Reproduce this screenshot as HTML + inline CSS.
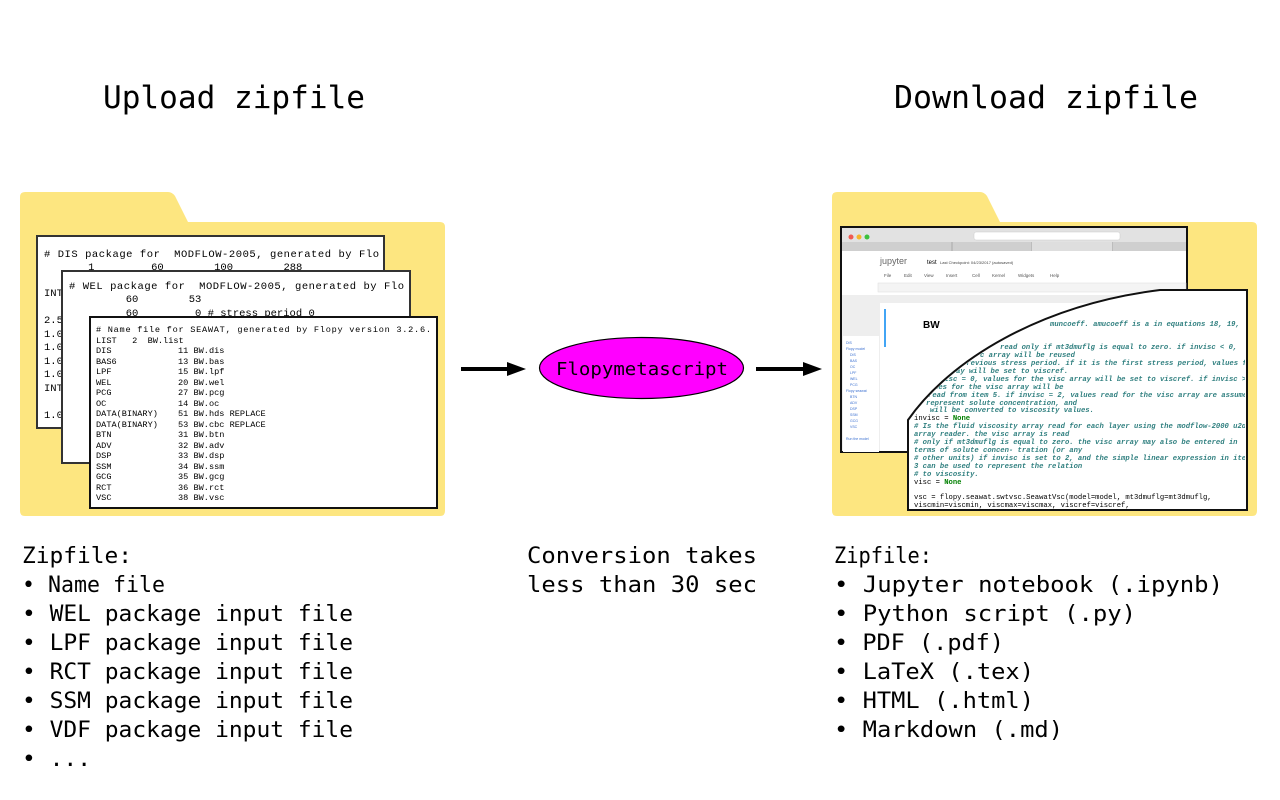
<!DOCTYPE html>
<html><head><meta charset="utf-8"><style>
html,body{margin:0;padding:0;background:#fff;width:1280px;height:800px;overflow:hidden}
svg{display:block}
.m{font-family:"DejaVu Sans Mono","Liberation Mono",monospace}
</style></head><body>
<svg width="1280" height="800" viewBox="0 0 1280 800" xmlns="http://www.w3.org/2000/svg">
<defs>
<clipPath id="pc"><path d="M909 509 L909 421 C951 361 1041 306 1160 291 L1245 291 L1245 509 Z"/></clipPath>
</defs>
<g class="m" fill="#000">
<text x="103" y="108" font-size="31" textLength="262" lengthAdjust="spacingAndGlyphs">Upload zipfile</text>
<text x="894" y="108" font-size="31" textLength="304" lengthAdjust="spacingAndGlyphs">Download zipfile</text>
</g>
<path d="M25 192 H168 Q172 192 175 196 L188 222 H440 Q445 222 445 227 V511 Q445 516 440 516 H25 Q20 516 20 511 V197 Q20 192 25 192 Z" fill="#FDE680"/>
<path d="M837 192 H980 Q984 192 987 196 L1000 222 H1252 Q1257 222 1257 227 V511 Q1257 516 1252 516 H837 Q832 516 832 511 V197 Q832 192 837 192 Z" fill="#FDE680"/>
<rect x="37" y="236" width="347" height="192" fill="#fff" stroke="#333" stroke-width="2"/>
<g font-family="Liberation Mono,monospace" font-size="10.5" fill="#000">
<text x="44" y="257" textLength="335" lengthAdjust="spacing">#&#160;DIS&#160;package&#160;for&#160;&#160;MODFLOW-2005,&#160;generated&#160;by&#160;Flo</text>
<text x="44" y="270">&#160;&#160;&#160;&#160;&#160;&#160;&#160;1&#160;&#160;&#160;&#160;&#160;&#160;&#160;&#160;&#160;60&#160;&#160;&#160;&#160;&#160;&#160;&#160;&#160;100&#160;&#160;&#160;&#160;&#160;&#160;&#160;&#160;288</text>
<text x="44" y="296">INT</text><text x="44" y="323">2.5</text><text x="44" y="337">1.0</text><text x="44" y="350">1.0</text><text x="44" y="364">1.0</text><text x="44" y="377">1.0</text><text x="44" y="391">INT</text><text x="44" y="418">1.0</text>
</g>
<rect x="62" y="271" width="348" height="192" fill="#fff" stroke="#333" stroke-width="2"/>
<g font-family="Liberation Mono,monospace" font-size="10.5" fill="#000">
<text x="69" y="289" textLength="335" lengthAdjust="spacing">#&#160;WEL&#160;package&#160;for&#160;&#160;MODFLOW-2005,&#160;generated&#160;by&#160;Flo</text>
<text x="69" y="302">&#160;&#160;&#160;&#160;&#160;&#160;&#160;&#160;&#160;60&#160;&#160;&#160;&#160;&#160;&#160;&#160;&#160;53</text>
<text x="69" y="316">&#160;&#160;&#160;&#160;&#160;&#160;&#160;&#160;&#160;60&#160;&#160;&#160;&#160;&#160;&#160;&#160;&#160;&#160;0&#160;#&#160;stress&#160;period&#160;0</text>
</g>
<rect x="90" y="317" width="347" height="191" fill="#fff" stroke="#111" stroke-width="2"/>
<g font-family="Liberation Mono,monospace" font-size="8.6" fill="#000">
<text x="96" y="332" textLength="335" lengthAdjust="spacing">#&#160;Name&#160;file&#160;for&#160;SEAWAT,&#160;generated&#160;by&#160;Flopy&#160;version&#160;3.2.6.</text>
<text x="96" y="343">LIST&#160;&#160;&#160;2&#160;&#160;BW.list</text>
<text x="96" y="353">DIS</text><text x="178" y="353">11&#160;BW.dis</text>
<text x="96" y="364">BAS6</text><text x="178" y="364">13&#160;BW.bas</text>
<text x="96" y="374">LPF</text><text x="178" y="374">15&#160;BW.lpf</text>
<text x="96" y="385">WEL</text><text x="178" y="385">20&#160;BW.wel</text>
<text x="96" y="395">PCG</text><text x="178" y="395">27&#160;BW.pcg</text>
<text x="96" y="406">OC</text><text x="178" y="406">14&#160;BW.oc</text>
<text x="96" y="416">DATA(BINARY)</text><text x="178" y="416">51&#160;BW.hds&#160;REPLACE</text>
<text x="96" y="427">DATA(BINARY)</text><text x="178" y="427">53&#160;BW.cbc&#160;REPLACE</text>
<text x="96" y="437">BTN</text><text x="178" y="437">31&#160;BW.btn</text>
<text x="96" y="448">ADV</text><text x="178" y="448">32&#160;BW.adv</text>
<text x="96" y="458">DSP</text><text x="178" y="458">33&#160;BW.dsp</text>
<text x="96" y="469">SSM</text><text x="178" y="469">34&#160;BW.ssm</text>
<text x="96" y="479">GCG</text><text x="178" y="479">35&#160;BW.gcg</text>
<text x="96" y="490">RCT</text><text x="178" y="490">36&#160;BW.rct</text>
<text x="96" y="500">VSC</text><text x="178" y="500">38&#160;BW.vsc</text>
</g>
<rect x="841" y="227" width="346" height="225" fill="#fff" stroke="#111" stroke-width="2"/>
<rect x="842" y="228" width="344" height="14" fill="#e2e2e2"/>
<circle cx="851" cy="237" r="2.5" fill="#f05a50"/><circle cx="859" cy="237" r="2.5" fill="#f5b52a"/><circle cx="867" cy="237" r="2.5" fill="#3dc13d"/>
<rect x="974" y="232" width="146" height="8" rx="2" fill="#fff" stroke="#ccc" stroke-width="0.5"/>
<rect x="842" y="242" width="344" height="9" fill="#cfcfcf"/>
<line x1="952" y1="242" x2="952" y2="251" stroke="#aaa"/><line x1="1032" y1="242" x2="1032" y2="251" stroke="#aaa"/><line x1="1112" y1="242" x2="1112" y2="251" stroke="#aaa"/>
<rect x="1032" y="242" width="80" height="9" fill="#dedede"/>
<text x="880" y="264" font-family="Liberation Sans,sans-serif" font-size="9" fill="#666">jupyter</text>
<text x="927" y="264" font-family="Liberation Sans,sans-serif" font-size="6" fill="#000">test</text>
<text x="940" y="264" font-family="Liberation Sans,sans-serif" font-size="4" fill="#444">Last Checkpoint: 04/23/2017 (autosaved)</text>
<g font-family="Liberation Sans,sans-serif" font-size="4.5" fill="#555">
<text x="884" y="277">File</text><text x="904" y="277">Edit</text><text x="924" y="277">View</text><text x="946" y="277">Insert</text><text x="972" y="277">Cell</text><text x="992" y="277">Kernel</text><text x="1018" y="277">Widgets</text><text x="1050" y="277">Help</text>
</g>
<rect x="878" y="283" width="308" height="9" fill="#f4f4f4" stroke="#ddd" stroke-width="0.5"/>
<rect x="842" y="295" width="344" height="156" fill="#eeeeee"/>
<rect x="880" y="303" width="306" height="148" fill="#fff"/>
<rect x="884" y="309" width="2" height="38" fill="#42a5f5"/>
<text x="923" y="328" font-family="Liberation Sans,sans-serif" font-size="10" font-weight="bold" fill="#000">BW</text>
<rect x="843" y="336" width="36" height="116" fill="#fff"/>
<g font-family="Liberation Sans,sans-serif" font-size="3.5" fill="#3a6fd0">
<text x="846" y="344">DIS</text><text x="846" y="350">Flopy model</text><text x="850" y="356">DIS</text><text x="850" y="362">BAS</text><text x="850" y="368">OC</text><text x="850" y="374">LPF</text><text x="850" y="380">WEL</text><text x="850" y="386">PCG</text><text x="846" y="392">Flopy seawat</text><text x="850" y="398">BTN</text><text x="850" y="404">ADV</text><text x="850" y="410">DSP</text><text x="850" y="416">SSM</text><text x="850" y="422">GCG</text><text x="850" y="428">VSC</text><text x="846" y="440">Run the model</text>
</g>
<path d="M908 510 L908 420 C950 360 1040 305 1160 290 L1247 290 L1247 510 Z" fill="#fff" stroke="#111" stroke-width="2"/>
<g clip-path="url(#pc)">
<g font-family="Liberation Mono,monospace" font-size="7.2" font-style="italic" font-weight="bold" fill="#2f7f7f">
<text x="1050" y="326">muncoeff. amucoeff is a in equations 18, 19,</text>
<text x="1000" y="349">read only if mt3dmuflg is equal to zero. if invisc &lt; 0,</text>
<text x="980" y="357">c array will be reused</text>
<text x="962" y="365">previous stress period. if it is the first stress period, values for</text>
<text x="956" y="373">ay will be set to viscref.</text>
<text x="940" y="381">visc = 0, values for the visc array will be set to viscref. if invisc &gt;=</text>
<text x="934" y="389">ues for the visc array will be</text>
<text x="928" y="397">read from item 5. if invisc = 2, values read for the visc array are assumed</text>
<text x="926" y="405">represent solute concentration, and</text>
<text x="930" y="412">will be converted to viscosity values.</text>
<text x="914" y="428"># Is the fluid viscosity array read for each layer using the modflow-2000 u2drel</text>
<text x="914" y="436">array reader. the visc array is read</text>
<text x="914" y="444">#   only if mt3dmuflg is equal to zero. the visc array may also be entered in</text>
<text x="914" y="452">terms of solute concen- tration (or any</text>
<text x="914" y="460">#   other units) if invisc is set to 2, and the simple linear expression in item</text>
<text x="914" y="468">3 can be used to represent the relation</text>
<text x="914" y="476">#   to viscosity.</text>
</g>
<g font-family="Liberation Mono,monospace" font-size="7.2" fill="#000">
<text x="914" y="420">invisc = <tspan fill="#008000" font-weight="bold">None</tspan></text>
<text x="914" y="484">visc = <tspan fill="#008000" font-weight="bold">None</tspan></text>
<text x="914" y="499">vsc = flopy.seawat.swtvsc.SeawatVsc(model=model, mt3dmuflg=mt3dmuflg,</text>
<text x="914" y="507">viscmin=viscmin, viscmax=viscmax, viscref=viscref,</text>
</g>
</g>
<line x1="461" y1="369" x2="512" y2="369" stroke="#000" stroke-width="4"/>
<polygon points="507,362 526,369 507,376" fill="#000"/>
<line x1="756" y1="369" x2="808" y2="369" stroke="#000" stroke-width="4"/>
<polygon points="803,362 822,369 803,376" fill="#000"/>
<ellipse cx="641.5" cy="368" rx="102" ry="30.5" fill="#FF00FF" stroke="#000" stroke-width="1.2"/>
<text x="556" y="375" class="m" font-size="18" textLength="172" lengthAdjust="spacingAndGlyphs">Flopymetascript</text>
<g class="m" font-size="22" fill="#000">
<text x="22" y="563" textLength="110" lengthAdjust="spacingAndGlyphs">Zipfile:</text>
<text x="22" y="592" textLength="143" lengthAdjust="spacingAndGlyphs">• Name file</text>
<text x="22" y="621" textLength="331" lengthAdjust="spacingAndGlyphs">• WEL package input file</text>
<text x="22" y="650" textLength="331" lengthAdjust="spacingAndGlyphs">• LPF package input file</text>
<text x="22" y="679" textLength="331" lengthAdjust="spacingAndGlyphs">• RCT package input file</text>
<text x="22" y="708" textLength="331" lengthAdjust="spacingAndGlyphs">• SSM package input file</text>
<text x="22" y="737" textLength="331" lengthAdjust="spacingAndGlyphs">• VDF package input file</text>
<text x="22" y="766" textLength="69" lengthAdjust="spacingAndGlyphs">• ...</text>
<text x="527" y="563" textLength="230" lengthAdjust="spacingAndGlyphs">Conversion takes</text>
<text x="527" y="592" textLength="230" lengthAdjust="spacingAndGlyphs">less than 30 sec</text>
<text x="834" y="563" textLength="98" lengthAdjust="spacingAndGlyphs">Zipfile:</text>
<text x="834" y="592" textLength="389" lengthAdjust="spacingAndGlyphs">• Jupyter notebook (.ipynb)</text>
<text x="834" y="621" textLength="302" lengthAdjust="spacingAndGlyphs">• Python script (.py)</text>
<text x="834" y="650" textLength="170" lengthAdjust="spacingAndGlyphs">• PDF (.pdf)</text>
<text x="834" y="679" textLength="200" lengthAdjust="spacingAndGlyphs">• LaTeX (.tex)</text>
<text x="834" y="708" textLength="200" lengthAdjust="spacingAndGlyphs">• HTML (.html)</text>
<text x="834" y="737" textLength="229" lengthAdjust="spacingAndGlyphs">• Markdown (.md)</text>
</g>
</svg>
</body></html>
